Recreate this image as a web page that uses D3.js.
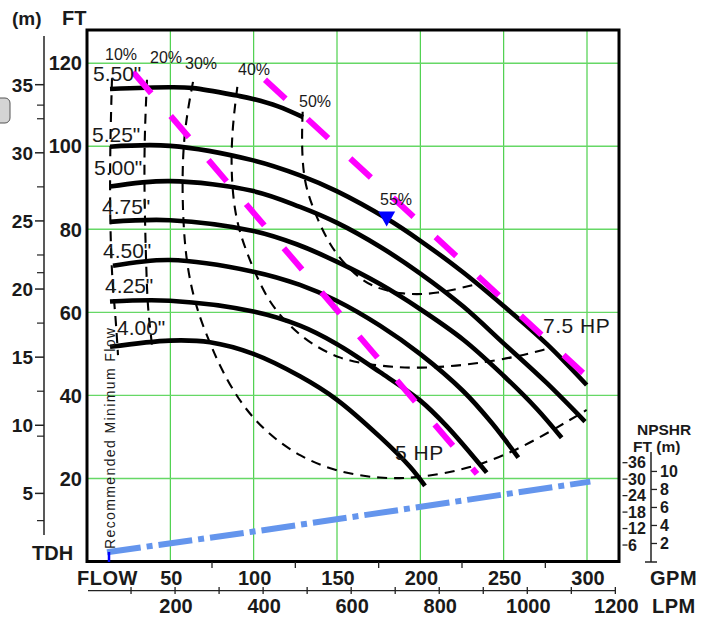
<!DOCTYPE html>
<html><head><meta charset="utf-8">
<script src="https://cdn.jsdelivr.net/npm/d3@7"></script>
<style>
body{margin:0;background:#fff}
svg{display:block}
text{font-family:Arial,"Liberation Sans",sans-serif}
</style>
</head><body>
<svg id="c" width="713" height="618"></svg>
<script>
// ---------- data (flow in GPM, head in FT) ----------
const impellerLabels = ['5.50"', '5.25"', '5.00"', '4.75"', '4.50"', '4.25"', '4.00"'];
const impellerLabelPos = [[3.6,115.7],[3.0,101.0],[4.2,93.1],[9.0,83.7],[9.6,73.1],[10.8,64.7],[18.0,54.5]];
const curve550 = [[13.8,113.8],[49.8,114.2],[63.6,114.0],[90.0,112.2],[99.6,111.4],[114.6,109.6],[129.6,107.0]];
const curve525 = [[13.8,99.9],[49.8,100.1],[99.8,96.6],[127.8,93.0],[149.8,89.2],[179.8,82.6],[199.8,77.3],[225.8,69.6],[249.8,61.6],[275.8,52.4],[299.8,42.5]];
const curve500 = [[13.8,90.3],[49.8,91.6],[99.8,89.2],[127.8,85.4],[149.8,81.6],[175.8,75.8],[199.8,69.4],[225.8,61.4],[249.8,52.6],[275.8,43.0],[298.8,33.7]];
const curve475 = [[13.8,81.8],[49.8,82.2],[99.8,79.6],[125.8,76.4],[149.8,72.2],[175.8,66.8],[199.8,60.8],[225.8,53.4],[249.8,44.8],[269.8,36.8],[284.8,29.8]];
const curve450 = [[15.6,71.2],[49.8,72.6],[99.8,69.8],[127.8,66.6],[149.8,62.8],[175.8,56.8],[199.8,50.0],[225.8,41.0],[242.8,33.4],[258.8,25.0]];
const curve425 = [[13.8,62.6],[49.8,62.8],[99.8,60.2],[127.8,56.8],[149.8,52.4],[175.8,45.6],[199.8,38.8],[215.8,32.6],[239.8,21.4]];
const curve400 = [[13.8,51.7],[49.8,53.2],[73.8,52.8],[99.8,50.0],[127.8,44.6],[149.8,39.0],[175.8,30.0],[193.8,22.8],[202.8,18.2]];

const effLabels = ['10%', '20%', '30%', '40%', '50%', '55%'];
const effLabelPos = [[10.8,120.8],[37.8,120.1],[58.8,118.6],[90.6,117.2],[127.2,109.5],[175.8,85.9]];
const eff10 = [[15.0,116.4],[13.8,99.1],[13.8,82.2],[15.0,67.8],[17.1,59.4],[18.6,49.7]];
const eff20 = [[36.0,116.0],[34.4,101.5],[34.4,87.1],[35.8,67.1],[36.6,60.6],[39.0,52.1]];
const eff30 = [[63.6,115.5],[58.2,103.9],[56.8,90.2],[58.8,72.6],[65.8,60.5],[73.8,52.6],[79.8,46.9],[91.8,38.2],[107.8,30.9],[127.8,25.2],[149.8,21.6],[175.8,19.9],[199.8,20.1],[229.8,22.4],[255.8,26.4],[279.8,31.7],[299.8,36.5]];
const eff40 = [[90.2,114.3],[85.8,99.9],[87.8,83.9],[95.8,74.2],[107.8,63.0],[121.8,56.5],[135.6,52.1],[151.8,48.8],[169.8,47.3],[199.8,46.3],[233.8,47.6],[257.8,49.3],[276.0,51.2]];
const eff50 = [[129.4,108.3],[128.8,101.5],[129.8,91.9],[135.8,84.7],[145.8,75.8],[157.8,70.2],[169.8,66.2],[189.6,64.2],[209.8,64.4],[233.8,66.8]];
const bestEffPoint = [179.8, 82.6];

const hpLabels = ['7.5 HP', '5 HP'];
const hpLabelPos = [[273.6,55.0],[184.8,24.4]];
const hpLine75 = [[106.8,116.0],[297.6,45.4]];
const hpLine5 = [[27.6,117.9],[234.0,21.1]];

const minFlow = 13.2;
const npshrCurve = [[12,3.4],[100,10.9],[302,29.1]];

const gpmTicks = [50,100,150,200,250,300];
const gpmMinorTicks = [75,125,175,225,275];
const lpmTicks = [200,400,600,800,1000,1200];
const lpmMinorTicks = [100,300,500,700,900,1100];
const ftTicks = [20,40,60,80,100,120];
const mTicks = [5,10,15,20,25,30,35];
const mMinorTicks = [3,9.2,12.5,17.5,21.2,22.5,27.5,32.5,33.5];
const npshFtTicks = [6,12,18,24,30,36];
const npshMTicks = [2,4,6,8,10];

// ---------- scales ----------
const svg = d3.select('#c');
const x = d3.scaleLinear().domain([0, 319.2]).range([87, 619]);
const y = d3.scaleLinear().domain([0, 128]).range([561.5, 30]);
const ym = d3.scaleLinear().domain([0, 128 / 3.28084]).range([561.5, 30]);
const xl = d3.scaleLinear().domain([0, 319.2 * 3.78541]).range([87, 619]);
const yn = d3.scaleLinear().domain([0, 40]).range([561.5, 451.7]);

const headLine = d3.line().x(d => x(d[0])).y(d => y(d[1])).curve(d3.curveCatmullRom.alpha(0.5));
const effLine = d3.line().x(d => x(d[0])).y(d => y(d[1])).curve(d3.curveBasis);
const txtCol = '#1a1a1a';

// left grey tab
svg.append('rect').attr('x', -8).attr('y', 98).attr('width', 18).attr('height', 25).attr('rx', 5)
  .attr('fill', '#d4d4d4').attr('stroke', '#555').attr('stroke-width', 1);

// grid
const grid = svg.append('g');
grid.selectAll('line.v').data(gpmTicks).join('line')
  .attr('x1', d => x(d)).attr('x2', d => x(d)).attr('y1', 30).attr('y2', 561.5)
  .attr('stroke', '#3ccc3c').attr('stroke-width', 1.1);
grid.selectAll('line.h').data(ftTicks).join('line')
  .attr('x1', 87).attr('x2', 619).attr('y1', d => y(d)).attr('y2', d => y(d))
  .attr('stroke', '#66d866').attr('stroke-width', 1.4);

// frame
svg.append('rect').attr('x', 87).attr('y', 30).attr('width', 532).attr('height', 531.5)
  .attr('fill', 'none').attr('stroke', '#000').attr('stroke-width', 3);

// efficiency dashed curves
const effG = svg.append('g').attr('fill', 'none').attr('stroke', '#000').attr('stroke-width', 2.1).attr('stroke-dasharray', '10,7');
[eff10, eff20, eff30, eff40, eff50].forEach(c => effG.append('path').attr('d', effLine(c)));

// head curves
const headG = svg.append('g').attr('fill', 'none').attr('stroke', '#000').attr('stroke-width', 4.6).attr('stroke-linecap', 'butt');
[curve550, curve525, curve500, curve475, curve450, curve425, curve400].forEach(c => headG.append('path').attr('d', headLine(c)));

// HP limit lines (magenta dashed)
const hpG = svg.append('g').attr('fill', 'none').attr('stroke', '#ff00ff').attr('stroke-width', 6).attr('stroke-dasharray', '28,30');
[hpLine5, hpLine75].forEach(c => hpG.append('path').attr('d', d3.line().x(d => x(d[0])).y(d => y(d[1]))(c)));

// NPSHR line
svg.append('path').attr('d', d3.line().x(d => x(d[0])).y(d => yn(d[1]))(npshrCurve))
  .attr('fill', 'none').attr('stroke', '#6495ed').attr('stroke-width', 6).attr('stroke-dasharray', '34,6,6,6');

// min flow marker
svg.append('line').attr('x1', x(minFlow)).attr('x2', x(minFlow)).attr('y1', 552).attr('y2', 562)
  .attr('stroke', '#0000ff').attr('stroke-width', 2.5);
svg.append('text').attr('transform', `translate(${x(minFlow) + 5.5},549) rotate(-90)`)
  .attr('font-size', 14).attr('fill', txtCol).attr('textLength', 221).attr('lengthAdjust', 'spacing')
  .text('Recommended Minimum Flow');

// best efficiency marker
svg.append('path').attr('transform', `translate(${x(bestEffPoint[0])},${y(bestEffPoint[1])})`)
  .attr('d', 'M-8.5,-7L8.5,-7L0,8Z').attr('fill', '#0000ff');

// impeller labels
svg.append('g').selectAll('text').data(impellerLabels).join('text')
  .attr('x', (d, i) => x(impellerLabelPos[i][0])).attr('y', (d, i) => y(impellerLabelPos[i][1]))
  .attr('font-size', 21).attr('fill', txtCol).text(d => d);
// efficiency labels
svg.append('g').selectAll('text').data(effLabels).join('text')
  .attr('x', (d, i) => x(effLabelPos[i][0])).attr('y', (d, i) => y(effLabelPos[i][1]))
  .attr('font-size', 16).attr('fill', txtCol).text(d => d);
// HP labels
svg.append('g').selectAll('text').data(hpLabels).join('text')
  .attr('x', (d, i) => x(hpLabelPos[i][0])).attr('y', (d, i) => y(hpLabelPos[i][1]))
  .attr('font-size', 21).attr('fill', txtCol).attr('letter-spacing', 0.5).text(d => d);

// ---------- axes ----------
const bold = sel => sel.attr('font-weight', 'bold').attr('fill', txtCol);

// FT axis labels
svg.append('g').selectAll('text').data(ftTicks).join('text')
  .attr('x', 82).attr('y', d => y(d)).attr('dy', '0.36em').attr('text-anchor', 'end')
  .attr('font-size', 20).call(bold).text(d => d);

// meter axis
svg.append('line').attr('x1', 44).attr('x2', 44).attr('y1', 36).attr('y2', 535).attr('stroke', '#222').attr('stroke-width', 1.5);
svg.append('g').selectAll('line').data(mTicks).join('line')
  .attr('x1', 35).attr('x2', 44).attr('y1', d => ym(d)).attr('y2', d => ym(d)).attr('stroke', '#222').attr('stroke-width', 1.5);
svg.append('g').selectAll('line').data(mMinorTicks).join('line')
  .attr('x1', 37).attr('x2', 44).attr('y1', d => ym(d)).attr('y2', d => ym(d)).attr('stroke', '#222').attr('stroke-width', 1.2);
svg.append('g').selectAll('text').data(mTicks).join('text')
  .attr('x', 33).attr('y', d => ym(d)).attr('dy', '0.36em').attr('text-anchor', 'end')
  .attr('font-size', 19).call(bold).text(d => d);

svg.append('text').attr('x', 12).attr('y', 25).attr('font-size', 19).call(bold).text('(m)');
svg.append('text').attr('x', 62).attr('y', 25).attr('font-size', 20).call(bold).text('FT');
svg.append('text').attr('x', 32).attr('y', 560).attr('font-size', 20).call(bold).text('TDH');

// GPM axis
svg.append('g').selectAll('line').data(gpmMinorTicks).join('line')
  .attr('x1', d => x(d)).attr('x2', d => x(d)).attr('y1', 562).attr('y2', 568).attr('stroke', '#222').attr('stroke-width', 1.3);
svg.append('g').selectAll('text').data(gpmTicks).join('text')
  .attr('x', d => x(d) + 1).attr('y', 585).attr('text-anchor', 'middle')
  .attr('font-size', 20).call(bold).text(d => d);
svg.append('text').attr('x', 77).attr('y', 585).attr('font-size', 20).attr('letter-spacing', 0.5).call(bold).text('FLOW');
svg.append('text').attr('x', 650).attr('y', 585).attr('font-size', 20).attr('letter-spacing', 0.5).call(bold).text('GPM');

// LPM axis
svg.append('line').attr('x1', xl(0) + 1).attr('x2', xl(1200)).attr('y1', 590.7).attr('y2', 590.7).attr('stroke', '#222').attr('stroke-width', 1.3);
svg.append('g').selectAll('line').data(lpmMinorTicks.concat(lpmTicks)).join('line')
  .attr('x1', d => xl(d)).attr('x2', d => xl(d)).attr('y1', 587).attr('y2', 594).attr('stroke', '#222').attr('stroke-width', 1.3);
svg.append('g').selectAll('text').data(lpmTicks).join('text')
  .attr('x', d => xl(d) + 1).attr('y', 613).attr('text-anchor', 'middle')
  .attr('font-size', 20).call(bold).text(d => d);
svg.append('text').attr('x', 652).attr('y', 613).attr('font-size', 20).attr('letter-spacing', 0.5).call(bold).text('LPM');

// NPSHR axis
svg.append('line').attr('x1', 651).attr('x2', 651).attr('y1', 452).attr('y2', 562).attr('stroke', '#222').attr('stroke-width', 1.5);
svg.append('line').attr('x1', 645).attr('x2', 657).attr('y1', 562).attr('y2', 562).attr('stroke', '#222').attr('stroke-width', 1.5);
svg.append('g').selectAll('line').data(npshFtTicks).join('line')
  .attr('x1', 622.5).attr('x2', 627.5).attr('y1', d => yn(d)).attr('y2', d => yn(d)).attr('stroke', '#222').attr('stroke-width', 1.3);
svg.append('g').selectAll('text').data(npshFtTicks).join('text')
  .attr('x', 628).attr('y', d => yn(d)).attr('dy', '0.36em')
  .attr('font-size', 16).call(bold).text(d => d);
svg.append('g').selectAll('line').data(npshMTicks).join('line')
  .attr('x1', 651).attr('x2', 657).attr('y1', d => yn(d * 3.28084)).attr('y2', d => yn(d * 3.28084)).attr('stroke', '#222').attr('stroke-width', 1.3);
svg.append('g').selectAll('text').data(npshMTicks).join('text')
  .attr('x', 660).attr('y', d => yn(d * 3.28084)).attr('dy', '0.36em')
  .attr('font-size', 16).call(bold).text(d => d);
svg.append('text').attr('x', 637).attr('y', 435).attr('font-size', 15.5).call(bold).text('NPSHR');
svg.append('text').attr('x', 633).attr('y', 452).attr('font-size', 15.5).call(bold).text('FT (m)');
</script>
</body></html>
